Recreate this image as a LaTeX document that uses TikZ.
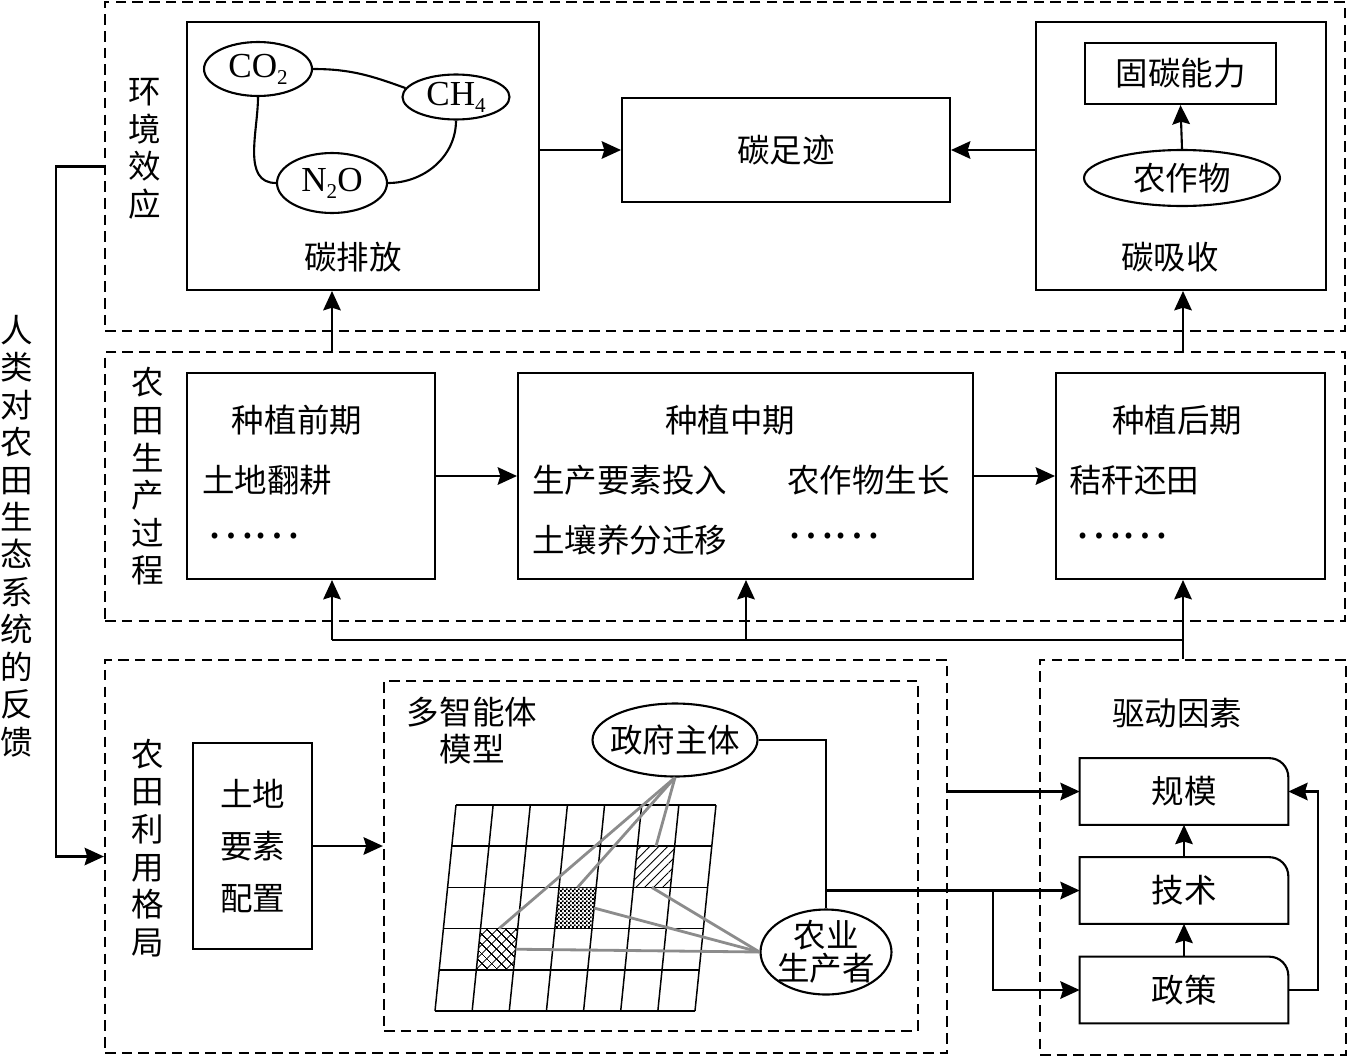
\documentclass[tikz,border=0pt]{standalone}
\usepackage{fontspec}
\setmainfont{Liberation Serif}
\newfontfamily\cjk{Noto Sans CJK SC}
\usetikzlibrary{arrows.meta,shapes.geometric,patterns,patterns.meta}
\definecolor{linkgrey}{RGB}{140, 140, 140}
\newcommand{\gsub}[1]{\raisebox{-0.45ex}{\fontsize{12}{12}\selectfont #1}}
\newcommand{\dotsrow}{\scalebox{1.35}{……}}
\pgfdeclarepatternformonly{finechecker}{\pgfqpoint{0pt}{0pt}}{\pgfqpoint{2.4pt}{2.4pt}}{\pgfqpoint{2.4pt}{2.4pt}}
  {\pgfpathrectangle{\pgfpointorigin}{\pgfqpoint{1.2pt}{1.2pt}}
   \pgfpathrectangle{\pgfqpoint{1.2pt}{1.2pt}}{\pgfqpoint{1.2pt}{1.2pt}}
   \pgfusepath{fill}}

\begin{document}
\begin{tikzpicture}
  [
    x=0.02cm, y=-0.02cm,
    >={Stealth[length=11pt, width=10pt, inset=1.5pt]},
    flow/.style={line width=1.2pt},
    arrow/.style={flow, ->},
    frame/.style={draw, line width=1.35pt, dash pattern=on 6pt off 3.5pt, inner sep=0pt},
    box/.style={draw, line width=1.2pt, inner sep=0pt},
    gas/.style={draw, ellipse, line width=1.2pt, inner sep=0pt, font=\fontsize{20}{20}\selectfont},
    zh/.style={font=\cjk\fontsize{18.5}{22}\selectfont, inner sep=0pt},
    oval/.style={zh, draw, ellipse, line width=1.2pt},
    vlabel/.style={zh, align=center, font=\cjk\fontsize{18.5}{21.4}\selectfont},
    factor/.style={zh, minimum width=4.16cm, minimum height=1.32cm},
    link/.style={linkgrey, line width=1.6pt},
    cell/.style={line width=0.85pt}
  ]
  \useasboundingbox (0,0) rectangle (1348,1058);

  % dashed frames
  \node[frame, minimum width=24.8cm, minimum height=6.58cm] (env) at (725,166.5) {};
  \node[frame, minimum width=24.8cm, minimum height=5.38cm] (prod) at (725,486.5) {};
  \node[frame, minimum width=16.84cm, minimum height=7.86cm] (land) at (526,856.5) {};
  \node[frame, minimum width=6.12cm, minimum height=7.9cm] (drive) at (1193,857.5) {};
  \node[frame, minimum width=10.68cm, minimum height=7.0cm] (mas) at (651,856) {};

  % environment
  \node[vlabel] at (145,149) {环\\境\\效\\应};
  \node[box, minimum width=7.04cm, minimum height=5.36cm] (emission) at (363,156) {};
  \node[zh] at (353,257) {碳排放};
  \node[gas, minimum width=2.16cm, minimum height=1.08cm] (co2) at (258,69) {CO\gsub{2}};
  \node[gas, minimum width=2.14cm, minimum height=0.9cm] (ch4) at (456,97) {CH\gsub{4}};
  \node[gas, minimum width=2.2cm, minimum height=1.2cm] (n2o) at (332,183) {N\gsub{2}O};
  \draw[flow] (co2.east) to[out=0, in=160] (ch4.170);
  \draw[flow] (co2.south) to[out=-90, in=180] (n2o.west);
  \draw[flow] (ch4.south) to[out=-90, in=0] (n2o.east);

  \node[box, zh, minimum width=6.56cm, minimum height=2.08cm] (footprint) at (786,150) {碳足迹};

  \node[box, minimum width=5.8cm, minimum height=5.36cm] (absorb) at (1181,156) {};
  \node[box, zh, minimum width=3.82cm, minimum height=1.22cm] (capacity) at (1180.5,73.5) {固碳能力};
  \node[oval, minimum width=3.92cm, minimum height=1.12cm] (crop) at (1182,178) {农作物};
  \node[zh] at (1170,257) {碳吸收};
  \draw[arrow] (crop.north) -- (capacity.south);

  \draw[arrow] (footprint.west -| emission.east) -- (footprint.west);
  \draw[arrow] (footprint.east -| absorb.west) -- (footprint.east);

  % production
  \node[vlabel] at (148,476.5) {农\\田\\生\\产\\过\\程};
  \node[box, minimum width=4.96cm, minimum height=4.12cm] (pre) at (311,476) {};
  \node[box, minimum width=9.1cm, minimum height=4.12cm] (mid) at (745.5,476) {};
  \node[box, minimum width=5.38cm, minimum height=4.12cm] (post) at (1190.5,476) {};

  \node[zh] at (297,420) {种植前期};
  \node[zh, anchor=west] at (202,480) {土地翻耕};
  \node[zh, anchor=west] at (207,536) {\dotsrow};
  \node[zh] at (730,420) {种植中期};
  \node[zh, anchor=west] at (532,480) {生产要素投入};
  \node[zh, anchor=west] at (532,540) {土壤养分迁移};
  \node[zh, anchor=west] at (787,480) {农作物生长};
  \node[zh, anchor=west] at (787,536) {\dotsrow};
  \node[zh] at (1177,420) {种植后期};
  \node[zh, anchor=west] at (1069,480) {秸秆还田};
  \node[zh, anchor=west] at (1075,536) {\dotsrow};

  \draw[arrow] (pre.east) -- (mid.west);
  \draw[arrow] (mid.east) -- (post.west);

  \coordinate (xl) at (332,640);
  \coordinate (xm) at (746,640);
  \coordinate (xr) at (1183,640);
  \draw[flow] (xl) -- (xr);
  \draw[arrow] (xl) -- (xl |- pre.south);
  \draw[arrow] (xm) -- (xm |- mid.south);
  \draw[arrow] (xr |- drive.north) -- (xr |- post.south);
  \draw[arrow] (xl |- prod.north) -- (xl |- emission.south);
  \draw[arrow] (xr |- prod.north) -- (xr |- absorb.south);

  % feedback
  \node[vlabel, font=\cjk\fontsize{18.5}{21.3}\selectfont] at (17,536) {人\\类\\对\\农\\田\\生\\态\\系\\统\\的\\反\\馈};
  \draw[arrow] (env.west) -- ++(-48,0) |- (land.west);

  % land use
  \node[vlabel] at (148,848) {农\\田\\利\\用\\格\\局};
  \node[box, zh, align=center, font=\cjk\fontsize{18.5}{29.6}\selectfont,
        minimum width=2.38cm, minimum height=4.12cm] (landbox) at (252.5,846) {土地\\要素\\配置};
  \draw[arrow] (landbox.east) -- (mas.west |- landbox.east);

  \node[zh, align=center, font=\cjk\fontsize{18.5}{21}\selectfont] at (472,731) {多智能体\\模型};

  % grid
  \fill[pattern={Lines[angle=45, distance=3.6pt, line width=0.5pt]}] (637.5,846.2) -- (674.6,846.2) -- (670.4,887.4) -- (633.3,887.4) -- cycle;
  \fill[pattern=finechecker] (559,887.4) -- (596.1,887.4) -- (591.9,928.6) -- (554.8,928.6) -- cycle;
  \fill[pattern={Hatch[angle=45, distance=4pt, line width=0.55pt]}] (480.5,928.6) -- (517.7,928.6) -- (513.5,969.8) -- (476.4,969.8) -- cycle;
  \foreach \c in {0,...,7}
    \draw[cell] (456+37.14*\c,805) -- (435+37.14*\c,1011);
  \foreach \r in {0,...,5}
    \draw[cell] (456-4.2*\r,805+41.2*\r) -- (716-4.2*\r,805+41.2*\r);

  \node[oval, inner sep=-4pt, minimum width=3.3cm, minimum height=1.46cm] (gov) at (675,740) {政府主体};
  \node[oval, inner sep=-3pt, align=center, font=\cjk\fontsize{18.5}{19}\selectfont,
        minimum width=2.62cm, minimum height=1.7cm] (farmer) at (826,952) {农业\\生产者};

  \coordinate (hatchtop) at (656,846.2);
  \coordinate (hatchbot) at (651.8,887.4);
  \coordinate (checktop) at (577.5,887.4);
  \coordinate (checkright) at (594,908);
  \coordinate (crosstop) at (499,928.6);
  \coordinate (crossright) at (515.6,949.2);
  \foreach \t in {hatchtop,checktop,crosstop}
    \draw[link] (gov.south) -- (\t);
  \foreach \t in {hatchbot,checkright,crossright}
    \draw[link] (farmer.west) -- (\t);

  % driving factors
  \node[zh] at (1177,713) {驱动因素};
  \node[factor] (scale) at (1184,791.5) {规模};
  \node[factor] (tech) at (1184,890.5) {技术};
  \node[factor] (policy) at (1184,990) {政策};
  \foreach \n in {scale,tech,policy}
    \draw[flow] (\n.south west) -- (\n.north west) -- ([xshift=-0.38cm]\n.north east)
      arc[start angle=90, end angle=0, radius=0.38cm] -- (\n.south east) -- cycle;
  \draw[arrow] (tech.north) -- (scale.south);
  \draw[arrow] (policy.north) -- (tech.south);
  \draw[arrow] (policy.east) -- ++(30,0) |- (scale.east);

  \coordinate (split) at (993,890.5);
  \draw[flow] (gov.east) -| (farmer.north);
  \draw[arrow] (farmer.north |- tech.west) -- (tech.west);
  \draw[arrow] (split) |- (policy.west);
  \draw[arrow] (land.east |- scale.west) -- (scale.west);

\end{tikzpicture}
\end{document}
